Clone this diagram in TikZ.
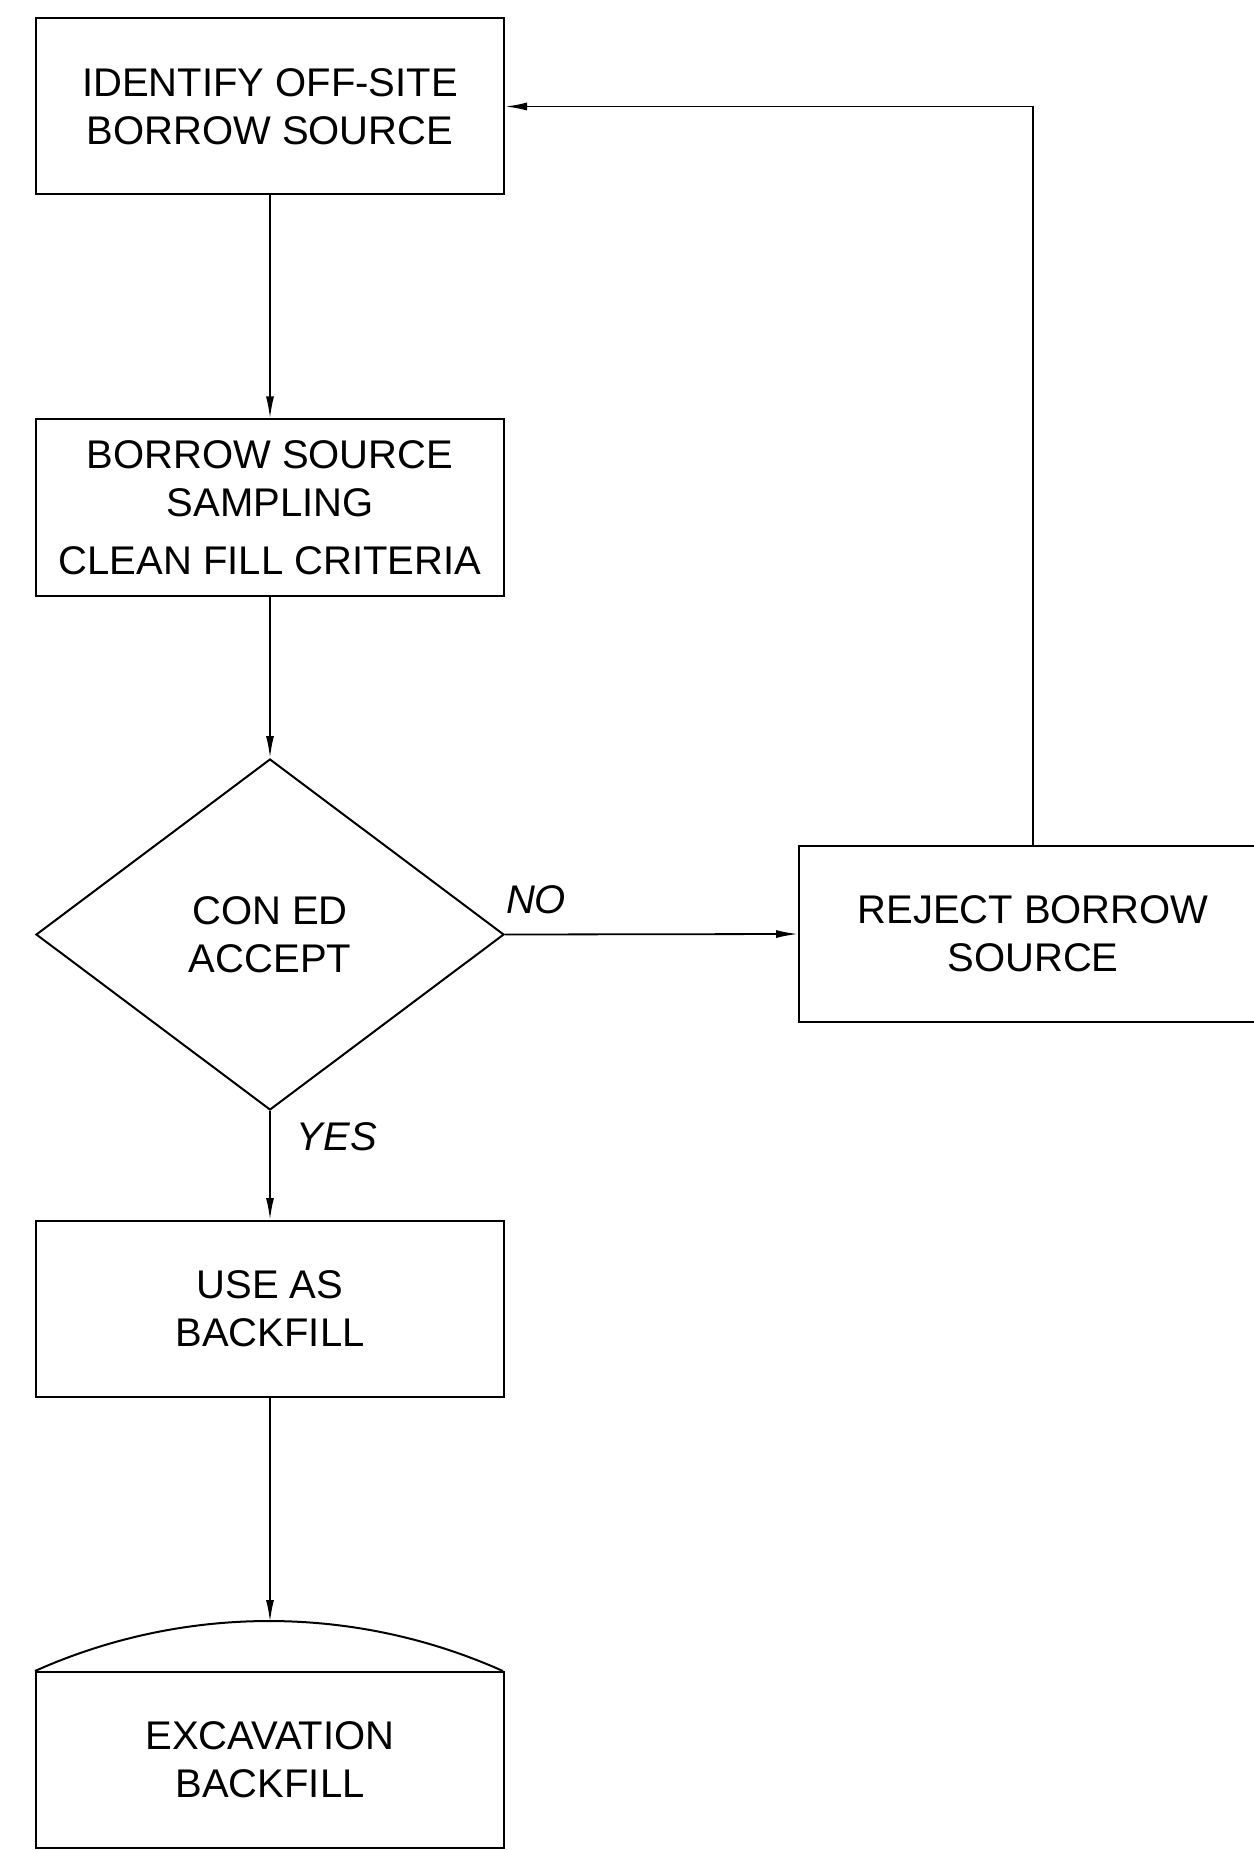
\documentclass[tikz,border=0pt]{standalone}
\usepackage{fontspec}
\setmainfont{Liberation Sans}
\usetikzlibrary{shapes.geometric,arrows.meta}
\begin{document}
\begin{tikzpicture}[x=0.5pt,y=-0.5pt,
  every node/.style={font=\fontsize{20}{24}\selectfont},
  box/.style={draw,line width=1pt,rectangle,minimum width=234pt,minimum height=88pt,inner sep=0pt,align=center},
  dec/.style={draw,line width=1pt,diamond,minimum width=234pt,minimum height=175.5pt,inner sep=0pt,align=center},
  arr/.style={line width=0.9pt,-{Latex[length=11pt,width=4pt]}},
  lbl/.style={font=\fontsize{20}{24}\selectfont\itshape}]
\useasboundingbox (0,0) rectangle (1253,1850);
\node[box] (b1) at (270,106.5) {IDENTIFY OFF-SITE\\BORROW SOURCE};
\node[box] (b2) at (270,507.5) {BORROW SOURCE\\SAMPLING\\[5pt]CLEAN FILL CRITERIA};
\node[dec] (d) at (270,934.5) {CON ED\\ACCEPT};
\node[box] (rej) at (1033,934) {REJECT BORROW\\SOURCE};
\node[box] (use) at (270,1309) {USE AS\\BACKFILL};
\node[box] (ex) at (270,1760) {EXCAVATION\\BACKFILL};
\draw[line width=1pt] (ex.north west) arc[start angle=114.12,end angle=65.88,radius=286.28pt];
\coordinate (exTop) at (270,1622);
\node[lbl] (no) at (536,900) {NO};
\node[lbl] (yes) at (337,1137) {YES};
\draw[arr] (b1.south) -- (b2.north);
\draw[arr] (b2.south) -- (d.north);
\draw[arr] (d.east) -- (rej.west);
\draw[arr] (d.south) -- (use.north);
\draw[arr] (use.south) -- (exTop);
\draw[arr] (rej.north) |- (b1.east);
\end{tikzpicture}
\end{document}
